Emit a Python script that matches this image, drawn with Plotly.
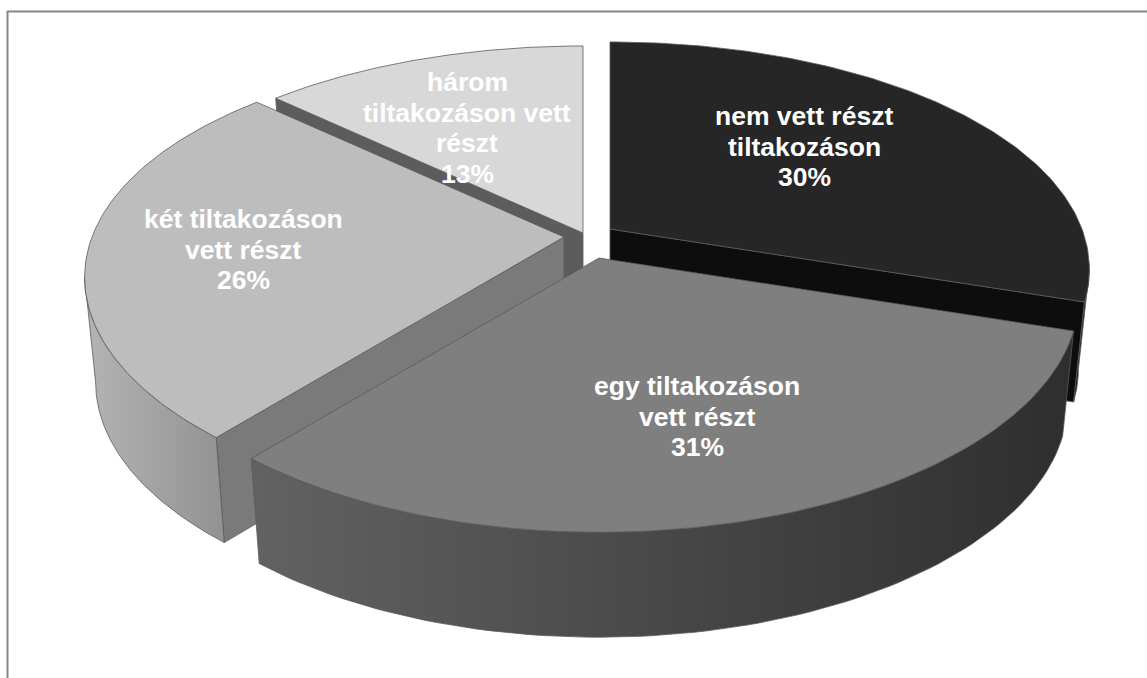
"""Exploded 3D-look pie chart: participation in protests."""

from __future__ import annotations

import numpy as np
import plotly.graph_objects as go

categories = ["nem vett részt tiltakozáson", "egy tiltakozáson vett részt", "két tiltakozáson vett részt", "három tiltakozáson vett részt"]
shares = [30, 31, 26, 13]
label_lines = [
    ["nem vett részt", "tiltakozáson", "30%"],
    ["egy tiltakozáson", "vett részt", "31%"],
    ["két tiltakozáson", "vett részt", "26%"],
    ["három", "tiltakozáson vett", "részt", "13%"],
]

# styling per slice
top_colors = ["#262626", "#7f7f7f", "#bdbdbd", "#d8d8d8"]
radial_colors = [["#0d0d0d"] * 2, ["#666666"] * 2, ["#7a7a7a", "#6e6e6e"], ["#5c5c5c"] * 2]
outer_colors = [["#0d0d0d", "#0d0d0d"], ["#626262", "#2e2e2e"], ["#b4b4b4", "#929292"], ["#5c5c5c", "#5c5c5c"]]
apexes = [(610, 229), (599, 258), (564, 237), (583, 233)]
depths = [100.0, 105.0, 105.0, 105.0]
label_pos = [(804, 116), (697, 386), (243, 219), (467, 82)]

A, B = 472.0, 222.4  # ellipse half axes
KX, KY = 0.175, 0.189  # perspective
SHRINK = 0.977  # bottom rim is a bit narrower
LINE_STEP = 30.5
# where the rim turns back at the sides, the wall silhouette runs between these
SIDE_LO = np.degrees(np.arccos(-KX))
SIDE_HI = 360 - SIDE_LO


def rim(apex, deg, depth=None):
    """Project rim points at clockwise angles (deg from 12 o'clock) to the page."""
    t = np.radians(deg)
    u, v = np.sin(t), np.cos(t)
    x = A * u / (1 + KX * v)
    y = -B * v / (1 + KY * v)
    if depth is not None:
        return apex[0] + x * SHRINK, apex[1] + y + depth
    return apex[0] + x, apex[1] + y


def poly(fig, x, y, color=None, gradient=None, edge="#5a5a5a", width=0.8):
    kw = {"fillcolor": color} if gradient is None else {
        "fillgradient": {"type": "horizontal", "colorscale": [[0, gradient[0]], [1, gradient[1]]]}
    }
    fig.add_trace(
        go.Scatter(
            x=list(x),
            y=list(y),
            mode="lines",
            fill="toself",
            line={"color": edge, "width": width},
            hoverinfo="skip",
            showlegend=False,
            **kw,
        )
    )


def radial_wall(fig, apex, deg, depth, color):
    rx, ry = rim(apex, deg)
    bx, by = rim(apex, deg, depth)
    poly(fig, [apex[0], rx, bx, apex[0], apex[0]], [apex[1], ry, by, apex[1] + depth, apex[1]], color=color)


edges = np.cumsum([0] + shares) * 3.6
fig = go.Figure()

# back to front so that nearer slices cover farther ones
for i in [3, 0, 2, 1]:
    a0, a1 = edges[i], edges[i + 1]
    apex = apexes[i]
    if np.sin(np.radians(a0)) < 0:
        radial_wall(fig, apex, a0, depths[i], radial_colors[i][0])
    if np.sin(np.radians(a1)) > 0:
        radial_wall(fig, apex, a1, depths[i], radial_colors[i][1])

    lo, hi = max(a0, SIDE_LO), min(a1, SIDE_HI)
    if hi > lo:
        arc = np.linspace(lo, hi, 80)
        tx, ty = rim(apex, arc)
        bx, by = rim(apex, arc, depths[i])
        poly(
            fig,
            np.concatenate([tx, bx[::-1], tx[:1]]),
            np.concatenate([ty, by[::-1], ty[:1]]),
            gradient=outer_colors[i],
        )

    arc = np.linspace(a0, a1, 120)
    tx, ty = rim(apex, arc)
    poly(
        fig,
        np.concatenate([[apex[0]], tx, [apex[0]]]),
        np.concatenate([[apex[1]], ty, [apex[1]]]),
        color=top_colors[i],
    )

annotations = []
for lines, (cx, cy) in zip(label_lines, label_pos):
    for n, text in enumerate(lines):
        annotations.append(
            {
                "x": cx,
                "y": cy + n * LINE_STEP,
                "text": f"<b>{text}</b>",
                "showarrow": False,
                "xanchor": "center",
                "yanchor": "middle",
                "font": {"family": "Liberation Sans", "size": 26.5, "color": "#ffffff"},
            }
        )

frame = {"color": "#868686", "width": 2}
fig.update_layout(
    width=1147,
    height=678,
    margin={"l": 0, "r": 0, "t": 0, "b": 0},
    paper_bgcolor="#ffffff",
    plot_bgcolor="#ffffff",
    xaxis={"range": [0, 1147], "visible": False, "fixedrange": True},
    yaxis={"range": [678, 0], "visible": False, "fixedrange": True},
    annotations=annotations,
    shapes=[
        {"type": "line", "x0": 7, "x1": 1147, "y0": 11.5, "y1": 11.5, "line": frame},
        {"type": "line", "x0": 7.5, "x1": 7.5, "y0": 11, "y1": 678, "line": frame},
    ],
)

# the page's default body margin would push the chart 8px in
fig.write_html("out.html", post_script="document.body.style.margin='0';document.body.style.overflow='hidden';", config={"displayModeBar": False})
